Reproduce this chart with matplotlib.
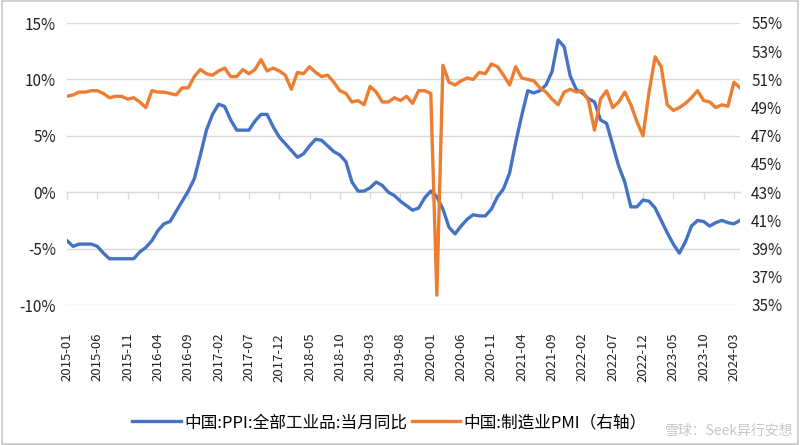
import numpy as np
import pandas as pd
import matplotlib
matplotlib.use("Agg")
import matplotlib.pyplot as plt
from matplotlib.ticker import FuncFormatter, FixedLocator

plt.rcParams["font.family"] = ["Noto Sans CJK SC", "DejaVu Sans"]
plt.rcParams["axes.unicode_minus"] = False

# monthly data, 2015-01 .. 2024-04
months = pd.period_range("2015-01", "2024-04", freq="M").strftime("%Y-%m").tolist()

ppi_yoy = [
    -4.3, -4.8, -4.6, -4.6, -4.6, -4.8, -5.4, -5.9, -5.9, -5.9, -5.9, -5.9,   # 2015
    -5.3, -4.9, -4.3, -3.4, -2.8, -2.6, -1.7, -0.8, 0.1, 1.2, 3.3, 5.5,       # 2016
    6.9, 7.8, 7.6, 6.4, 5.5, 5.5, 5.5, 6.3, 6.9, 6.9, 5.8, 4.9,               # 2017
    4.3, 3.7, 3.1, 3.4, 4.1, 4.7, 4.6, 4.1, 3.6, 3.3, 2.7, 0.9,               # 2018
    0.1, 0.1, 0.4, 0.9, 0.6, 0.0, -0.3, -0.8, -1.2, -1.6, -1.4, -0.5,         # 2019
    0.1, -0.4, -1.5, -3.1, -3.7, -3.0, -2.4, -2.0, -2.1, -2.1, -1.5, -0.4,    # 2020
    0.3, 1.7, 4.4, 6.8, 9.0, 8.8, 9.0, 9.5, 10.7, 13.5, 12.9, 10.3,           # 2021
    9.1, 8.8, 8.3, 8.0, 6.4, 6.1, 4.2, 2.3, 0.9, -1.3, -1.3, -0.7,            # 2022
    -0.8, -1.4, -2.5, -3.6, -4.6, -5.4, -4.4, -3.0, -2.5, -2.6, -3.0, -2.7,   # 2023
    -2.5, -2.7, -2.8, -2.5,                                                   # 2024
]

pmi = [
    49.8, 49.9, 50.1, 50.1, 50.2, 50.2, 50.0, 49.7, 49.8, 49.8, 49.6, 49.7,   # 2015
    49.4, 49.0, 50.2, 50.1, 50.1, 50.0, 49.9, 50.4, 50.4, 51.2, 51.7, 51.4,   # 2016
    51.3, 51.6, 51.8, 51.2, 51.2, 51.7, 51.4, 51.7, 52.4, 51.6, 51.8, 51.6,   # 2017
    51.3, 50.3, 51.5, 51.4, 51.9, 51.5, 51.2, 51.3, 50.8, 50.2, 50.0, 49.4,   # 2018
    49.5, 49.2, 50.5, 50.1, 49.4, 49.4, 49.7, 49.5, 49.8, 49.3, 50.2, 50.2,   # 2019
    50.0, 35.7, 52.0, 50.8, 50.6, 50.9, 51.1, 51.0, 51.5, 51.4, 52.1, 51.9,   # 2020
    51.3, 50.6, 51.9, 51.1, 51.0, 50.9, 50.4, 50.1, 49.6, 49.2, 50.1, 50.3,   # 2021
    50.1, 50.2, 49.5, 47.4, 49.6, 50.2, 49.0, 49.4, 50.1, 49.2, 48.0, 47.0,   # 2022
    50.1, 52.6, 51.9, 49.2, 48.8, 49.0, 49.3, 49.7, 50.2, 49.5, 49.4, 49.0,   # 2023
    49.2, 49.1, 50.8, 50.4,                                                   # 2024
]

left_ticks = [-10, -5, 0, 5, 10, 15]
right_ticks = [35, 37, 39, 41, 43, 45, 47, 49, 51, 53, 55]

ppi_label = "中国:PPI:全部工业品:当月同比"
pmi_label = "中国:制造业PMI（右轴）"

BLUE = "#4472C4"
ORANGE = "#ED7D31"
GRID = "#D9D9D9"

x = np.arange(len(months))

fig = plt.figure(figsize=(8, 4.45), dpi=100)
ax = fig.add_axes([67 / 800, 1 - 305 / 445, (740 - 67) / 800, (305 - 23) / 445])
ax2 = ax.twinx()

l1, = ax.plot(x, ppi_yoy, color=BLUE, lw=2.4, label=ppi_label, zorder=3)
l2, = ax2.plot(x, pmi, color=ORANGE, lw=2.4, label=pmi_label, zorder=3)

ax.set_xlim(0, len(months) - 1)
ax.set_ylim(left_ticks[0], left_ticks[-1])
ax2.set_ylim(right_ticks[0], right_ticks[-1])
ax.yaxis.set_major_locator(FixedLocator(left_ticks))
ax2.yaxis.set_major_locator(FixedLocator(right_ticks))
ax.yaxis.set_major_formatter(FuncFormatter(lambda v, p: f"{v:.0f}%"))
ax2.yaxis.set_major_formatter(FuncFormatter(lambda v, p: f"{v:.0f}%"))
ax.grid(axis="y", color=GRID, lw=1)
ax.set_axisbelow(True)

for a in (ax, ax2):
    for s in a.spines.values():
        s.set_visible(False)
ax.tick_params(axis="y", length=0, labelsize=11, pad=8, colors="#222222")
ax2.tick_params(axis="y", length=0, labelsize=11, pad=8, colors="#222222")

# category labels at the bottom, every 5 months
ticks = x[::5]
ax.set_xticks(ticks)
ax.set_xticklabels([months[i] for i in ticks], rotation=90, fontsize=9.5)
ax.tick_params(axis="x", length=0, pad=20, colors="#222222")

# axis line with tick marks through 0%
sec = ax.secondary_xaxis(0.4)
sec.set_xticks(ticks)
sec.set_xticklabels([])
sec.tick_params(axis="x", direction="out", length=5, color=GRID, width=1)
sec.spines["bottom"].set_color(GRID)

fig.legend(handles=[l1, l2], loc="center", bbox_to_anchor=(0.487, 0.05),
           ncol=2, frameon=False, fontsize=12, handlelength=2.9,
           columnspacing=0.3, handletextpad=0.2)

# watermark (kept clear of the legend)
fig.text(0.992, 0.032, "雪球：Seek异行安想", fontsize=10, color="#b8b8b8",
         alpha=0.8, ha="right", va="center")

fig.patches.append(plt.Rectangle((0.002, 0.002), 0.996, 0.996, transform=fig.transFigure,
                                 fill=False, edgecolor="#C8C8C8", lw=1.2))

fig.savefig("out.png", dpi=100)
